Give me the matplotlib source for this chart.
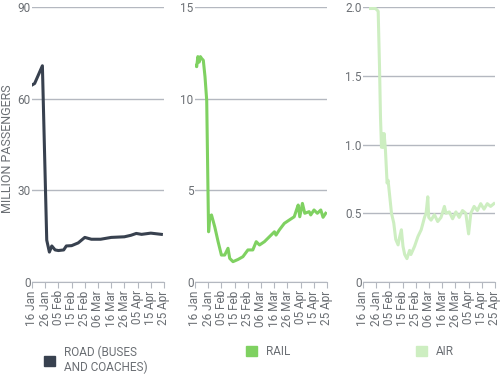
import matplotlib
matplotlib.use("Agg")
import matplotlib.pyplot as plt
import matplotlib.dates as mdates
from matplotlib.patches import Patch
import numpy as np

plt.rcParams['font.family'] = ['Roboto', 'DejaVu Sans']

# Data: days after 16 Jan 2020, millions of passengers
start = np.datetime64('2020-01-16')

road_days = [0, 2, 7.9, 11.2, 13.2, 15, 17.5, 20, 24, 26, 30, 35, 40, 45, 52, 60, 70, 75, 79, 83, 90, 98]
road_vals = [64.5, 65, 70.8, 13.7, 9.8, 11.8, 10.5, 10.3, 10.5, 11.8, 11.9, 12.8, 14.6, 14.0, 14.0, 14.6,
             14.8, 15.3, 15.9, 15.6, 16.0, 15.6]

rail_days = [0.5, 1.3, 2.2, 3.2, 4.1, 5, 6.3, 7.6, 8.9, 9.8, 10.3, 11.3, 12.5, 15, 17.5, 20, 22.5, 25, 26.3,
             28.8, 32.6, 36.3, 40.1, 43.8, 46.4, 48.9, 52.6, 56.4, 60.2, 61.4, 63.9, 67.7, 71.4, 75.2,
             76.9, 78.2, 79.4, 81.4, 83.2, 86.5, 87.7, 90.2, 92.7, 95.3, 97, 99]
rail_vals = [11.8, 11.75, 12.3, 12.0, 12.3, 12.2, 12.1, 11.2, 9.9, 5.2, 2.74, 3.56, 3.66, 3.0, 2.2, 1.47,
             1.47, 1.84, 1.29, 1.11, 1.23, 1.38, 1.75, 1.75, 2.2, 2.02, 2.2, 2.47, 2.74, 2.56, 2.84, 3.2,
             3.38, 3.56, 3.93, 4.2, 3.56, 4.29, 3.75, 3.84, 3.66, 3.93, 3.75, 3.93, 3.53, 3.75]

air_days = [5.75, 9.5, 11.5, 12.5, 13.25, 14, 14.5, 15.25, 16, 17, 18.25, 19, 21.6, 23.3, 24.8, 26.6, 27.6,
            29.1, 30.3, 31.6, 33.3, 35.3, 36.3, 39.1, 41.6, 44.1, 46.6, 47.8, 49.1, 49.8, 51.6, 54.1,
            56.6, 59.1, 61.7, 62.9, 65.4, 67.9, 70.4, 72.9, 75.4, 77.9, 80, 81.7, 84.2, 86.7, 89.2,
            91.7, 94.2, 96.7, 99.2]
air_vals = [1.99, 1.99, 1.97, 1.57, 1.2, 0.98, 1.08, 0.98, 1.08, 0.96, 0.72, 0.74, 0.5, 0.43, 0.31, 0.27,
            0.32, 0.38, 0.26, 0.2, 0.17, 0.23, 0.2, 0.26, 0.33, 0.38, 0.47, 0.5, 0.62, 0.47, 0.45, 0.49,
            0.44, 0.47, 0.55, 0.5, 0.51, 0.46, 0.51, 0.47, 0.52, 0.5, 0.35, 0.5, 0.55, 0.52, 0.57, 0.53,
            0.57, 0.55, 0.57]

panels = [
    ("ROAD (BUSES\nAND COACHES)", road_days, road_vals, "#38414f", [0, 30, 60, 90], ["0", "30", "60", "90"]),
    ("RAIL", rail_days, rail_vals, "#7fd161", [0, 5, 10, 15], ["0", "5", "10", "15"]),
    ("AIR", air_days, air_vals, "#cdeec1", [0, 0.5, 1.0, 1.5, 2.0], ["0", "0.5", "1.0", "1.5", "2.0"]),
]
lefts = [0.064, 0.39, 0.726]
legend_x = [0.076, 0.48, 0.82]

tick_dates = start + np.arange(0, 101, 10).astype('timedelta64[D]')
text_col = "#6b6f74"
grid_col = "#b4b8c0"

fig = plt.figure(figsize=(5, 3.75), dpi=100)
for i, (name, days, vals, col, yt, ylab) in enumerate(panels):
    ax = fig.add_axes([lefts[i], 0.248, 0.264, 0.733])
    dates = start + (np.array(days) * 24).astype('timedelta64[h]')
    ax.plot(dates, vals, color=col, lw=2.2, solid_joinstyle='round')
    ax.set_xlim(tick_dates[0], tick_dates[-1])
    ax.set_ylim(0, yt[-1])
    ax.set_yticks(yt)
    ax.set_yticklabels(ylab)
    ax.set_xticks(tick_dates)
    ax.xaxis.set_major_formatter(mdates.DateFormatter('%d %b'))
    for s in ['top', 'right', 'left']:
        ax.spines[s].set_visible(False)
    ax.spines['bottom'].set_color(grid_col)
    ax.grid(axis='y', color=grid_col, lw=1)
    ax.set_axisbelow(True)
    ax.tick_params(axis='y', length=0, pad=1, labelsize=8.5, labelcolor=text_col)
    ax.tick_params(axis='x', length=4, color=grid_col, labelsize=8.5, labelcolor=text_col,
                   labelrotation=90, pad=2)
    if i == 0:
        ax.set_ylabel("MILLION PASSENGERS", color=text_col, fontsize=9)
        ax.yaxis.set_label_coords(-0.135, 0.485)
    fig.legend(handles=[Patch(color=col)], labels=[name], loc='upper left',
               bbox_to_anchor=(legend_x[i], 0.095), frameon=False, fontsize=8.5,
               handlelength=0.9, handleheight=0.9, handletextpad=0.8, borderpad=0,
               labelcolor=text_col)

fig.savefig("out.png", dpi=100)
